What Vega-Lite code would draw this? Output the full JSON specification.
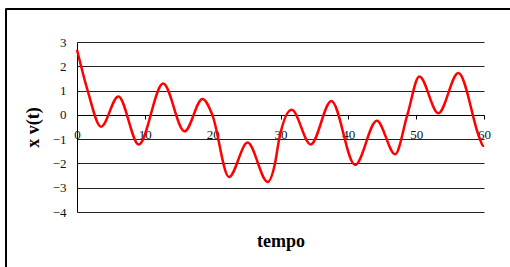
{
  "$schema": "https://vega.github.io/schema/vega-lite/v6.json",
  "width": 407,
  "height": 170,
  "autosize": "none",
  "padding": {"left": 77, "top": 42, "right": 26, "bottom": 55},
  "background": "white",
  "config": {
    "view": {"stroke": null},
    "axis": {"labelOverlap": false, "labelFlush": false}
  },
  "data": {"values": [
    {"t": 0, "v": 2.68}, {"t": 1.57, "v": 1.0}, {"t": 3.54, "v": -0.49}, {"t": 6.1, "v": 0.76},
    {"t": 9.1, "v": -1.22}, {"t": 12.7, "v": 1.29}, {"t": 15.85, "v": -0.68}, {"t": 18.5, "v": 0.65},
    {"t": 19.95, "v": 0}, {"t": 22.4, "v": -2.56}, {"t": 25.15, "v": -1.14}, {"t": 28.1, "v": -2.76},
    {"t": 29.19, "v": -2}, {"t": 29.8, "v": -1}, {"t": 31.65, "v": 0.21}, {"t": 34.45, "v": -1.22},
    {"t": 37.5, "v": 0.57}, {"t": 41.0, "v": -2.06}, {"t": 44.2, "v": -0.24}, {"t": 46.9, "v": -1.62},
    {"t": 48.7, "v": 0}, {"t": 50.47, "v": 1.58}, {"t": 53.27, "v": 0.07}, {"t": 56.22, "v": 1.72},
    {"t": 59.4, "v": -1}, {"t": 59.85, "v": -1.27}, {"t": 60, "v": -1.26}
  ]},
  "layer": [
    {
      "mark": {"type": "line", "color": "#ff0000", "strokeWidth": 2.5, "interpolate": "monotone", "clip": false},
      "encoding": {
        "x": {
          "field": "t", "type": "quantitative",
          "scale": {"domain": [0, 60], "nice": false, "zero": false},
          "axis": {
            "values": [0, 10, 20, 30, 40, 50, 60],
            "grid": false,
            "offset": -97,
            "domainColor": "#000000",
            "tickColor": "#000000",
            "tickSize": 4,
            "labelPadding": 9,
            "labelFont": "Liberation Serif",
            "labelFontSize": 13,
            "labelColor": "#111111",
            "title": "tempo",
            "titleFont": "Liberation Serif",
            "titleFontSize": 18,
            "titleFontWeight": "bold",
            "titleColor": "#000000",
            "titlePadding": 91
          }
        },
        "y": {
          "field": "v", "type": "quantitative",
          "scale": {"domain": [-4, 3], "nice": false, "zero": false},
          "axis": {
            "values": [-4, -3, -2, -1, 0, 1, 2, 3],
            "grid": true,
            "gridColor": "#222222",
            "gridOpacity": 1,
            "domainColor": "#000000",
            "ticks": false,
            "labelPadding": 11,
            "labelFont": "Liberation Serif",
            "labelFontSize": 13,
            "labelColor": "#111111",
            "title": "x v(t)",
            "titleFont": "Liberation Serif",
            "titleFontSize": 18,
            "titleFontWeight": "bold",
            "titleColor": "#000000",
            "titlePadding": 10
          }
        }
      }
    },
    {
      "mark": {"type": "rect", "fillOpacity": 0, "stroke": "#000000", "strokeWidth": 1, "clip": false},
      "encoding": {
        "x": {
          "datum": -10.47, "type": "quantitative",
          "scale": {"domain": [0, 60], "nice": false, "zero": false},
          "axis": {
            "values": [0, 10, 20, 30, 40, 50, 60],
            "grid": false,
            "offset": -97,
            "domainColor": "#000000",
            "tickColor": "#000000",
            "tickSize": 4,
            "labelPadding": 9,
            "labelFont": "Liberation Serif",
            "labelFontSize": 13,
            "labelColor": "#111111",
            "title": "tempo",
            "titleFont": "Liberation Serif",
            "titleFontSize": 18,
            "titleFontWeight": "bold",
            "titleColor": "#000000",
            "titlePadding": 91
          }
        },
        "x2": {"datum": 80},
        "y": {
          "datum": 4.36, "type": "quantitative",
          "scale": {"domain": [-4, 3], "nice": false, "zero": false},
          "axis": {
            "values": [-4, -3, -2, -1, 0, 1, 2, 3],
            "grid": true,
            "gridColor": "#222222",
            "gridOpacity": 1,
            "domainColor": "#000000",
            "ticks": false,
            "labelPadding": 11,
            "labelFont": "Liberation Serif",
            "labelFontSize": 13,
            "labelColor": "#111111",
            "title": "x v(t)",
            "titleFont": "Liberation Serif",
            "titleFontSize": 18,
            "titleFontWeight": "bold",
            "titleColor": "#000000",
            "titlePadding": 10
          }
        },
        "y2": {"datum": -9}
      }
    }
  ]
}
